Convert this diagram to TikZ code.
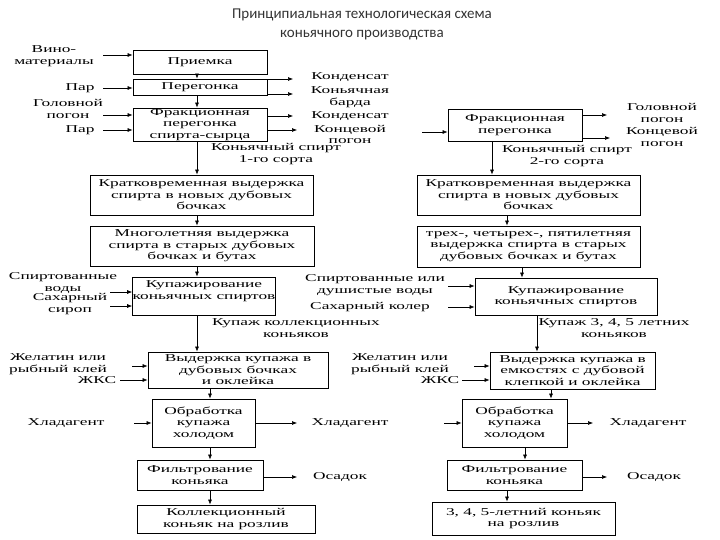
\documentclass[tikz,border=0pt]{standalone}
\usepackage{fontspec}
\usetikzlibrary{arrows.meta}
\newfontfamily\dfont[FakeStretch=1.65]{Liberation Serif}
\newfontfamily\tfont{Carlito}
\tikzset{
  box/.style={draw, line width=0.8pt, inner sep=0pt, align=center,
    font=\dfont\fontsize{10.5}{11.5}\selectfont},
  lbl/.style={inner sep=0pt, align=center,
    font=\dfont\fontsize{10.5}{11.5}\selectfont},
  ttl/.style={inner sep=0pt, align=center,
    font=\tfont\fontsize{15}{19}\selectfont, text=black!80},
  arr/.style={-{Latex[length=5pt,width=4pt]}, line width=0.6pt},
}
\begin{document}
\begin{tikzpicture}[x=1pt,y=-1pt]
\useasboundingbox (0,0) rectangle (720,540);
\node[ttl] (title) at (362,24) {Принципиальная технологическая схема\\коньячного производства};

% ---------- left column ----------
\node[box, minimum width=134pt, minimum height=24pt] (L1) at (200,62) {Приемка};
\node[box, minimum width=134pt, minimum height=16pt] (L2) at (200,87) {Перегонка};
\node[box, minimum width=134pt, minimum height=33pt] (L3) at (200,124.5) {Фракционная\\перегонка\\спирта-сырца};
\node[box, minimum width=223pt, minimum height=40pt] (L4) at (201.5,195) {Кратковременная выдержка\\спирта в новых дубовых\\бочках};
\node[box, minimum width=224pt, minimum height=40pt] (L5) at (202,246) {Многолетняя выдержка\\спирта в старых дубовых\\бочках и бутах};
\node[box, minimum width=142pt, minimum height=38pt] (L6) at (204,296) {Купажирование\\коньячных спиртов\\\mbox{}};
\node[box, minimum width=180pt, minimum height=36pt] (L7) at (238,370) {Выдержка купажа в\\дубовых бочках\\и оклейка};
\node[box, minimum width=103pt, minimum height=48pt] (L8) at (203.5,423) {Обработка\\купажа\\холодом};
\node[box, minimum width=126pt, minimum height=30pt] (L9) at (200,475) {Фильтрование\\коньяка};
\node[box, minimum width=178pt, minimum height=28pt] (L10) at (226,519) {Коллекционный\\коньяк на розлив};

\coordinate (xa) at (197,0);
\coordinate (xb) at (210,0);
\foreach \a/\b in {L1/L2,L2/L3,L3/L4,L4/L5,L5/L6,L6/L7}
  \draw[arr] (\a.south -| xa) -- (\b.north -| xa);
\foreach \a/\b in {L7/L8,L8/L9,L9/L10}
  \draw[arr] (\a.south -| xb) -- (\b.north -| xb);

% inputs left
\node[lbl] (iVino) at (54,56) {Вино-\\материалы};
\coordinate (aVino) at (103,55);
\draw[arr] (aVino) -- (L1.west |- aVino);
\node[lbl] (iPar1) at (80,88) {Пар};
\coordinate (aPar1) at (103,88);
\draw[arr] (aPar1) -- (L2.west |- aPar1);
\node[lbl] (iGol) at (68,109) {Головной\\погон};
\coordinate (aGol) at (103,115);
\draw[arr] (aGol) -- (L3.west |- aGol);
\node[lbl] (iPar2) at (80,130) {Пар};
\coordinate (aPar2) at (103,130);
\draw[arr] (aPar2) -- (L3.west |- aPar2);

% outputs left
\node[lbl] (oKond1) at (350,77) {Конденсат};
\coordinate (bKond1) at (293,79);
\draw[arr] (L2.east |- bKond1) -- (bKond1);
\node[lbl] (oBarda) at (350,97) {Коньячная\\барда};
\coordinate (bBarda) at (293,94);
\draw[arr] (L2.east |- bBarda) -- (bBarda);
\node[lbl] (oKond2) at (350,116) {Конденсат};
\coordinate (bKond2) at (293,116);
\draw[arr] (L3.east |- bKond2) -- (bKond2);
\node[lbl] (oKonc) at (350,134.5) {Концевой\\погон};
\coordinate (bKonc) at (297,130);
\draw[arr] (L3.east |- bKonc) -- (bKonc);
\node[lbl] (sp1) at (276,154) {Коньячный спирт\\1-го сорта};

\node[lbl] (iSpW) at (63,283) {Спиртованные\\воды};
\coordinate (aSpW) at (110,292);
\draw[arr] (aSpW) -- (L6.west |- aSpW);
\node[lbl] (iSir) at (70,304) {Сахарный\\сироп};
\coordinate (aSir) at (110,306);
\draw[arr] (aSir) -- (L6.west |- aSir);
\node[lbl] (kupL) at (296,328) {Купаж коллекционных\\коньяков};

\node[lbl] (iZhel) at (58,364) {Желатин или\\рыбный клей};
\coordinate (aZhel) at (132,366);
\draw[arr] (aZhel) -- (L7.west |- aZhel);
\node[lbl] (iZhks) at (97,380) {ЖКС};
\coordinate (aZhks) at (120,380);
\draw[arr] (aZhks) -- (L7.west |- aZhks);

\node[lbl] (iHl) at (66,423) {Хладагент};
\coordinate (aHl) at (134,423);
\draw[arr] (aHl) -- (L8.west |- aHl);
\node[lbl] (oHl) at (350,423) {Хладагент};
\coordinate (bHl) at (297,423);
\draw[arr] (L8.east |- bHl) -- (bHl);
\node[lbl] (oOs) at (340,477) {Осадок};
\coordinate (bOs) at (297,477);
\draw[arr] (L9.east |- bOs) -- (bOs);

% ---------- right column ----------
\node[box, minimum width=134pt, minimum height=32pt] (R3) at (515,125) {Фракционная\\перегонка};
\node[box, minimum width=223pt, minimum height=40pt] (R4) at (528.5,195) {Кратковременная выдержка\\спирта в новых дубовых\\бочках};
\node[box, minimum width=223pt, minimum height=41pt] (R5) at (528.5,246.5) {трех-, четырех-, пятилетняя\\выдержка спирта в старых\\дубовых бочках и бутах};
\node[box, minimum width=182pt, minimum height=37pt] (R6) at (566,296.5) {Купажирование\\коньячных спиртов};
\node[box, minimum width=165pt, minimum height=37pt] (R7) at (572.5,370.5) {Выдержка купажа в\\емкостях с дубовой\\клепкой и оклейка};
\node[box, minimum width=105pt, minimum height=48pt] (R8) at (514.5,423) {Обработка\\купажа\\холодом};
\node[box, minimum width=135pt, minimum height=30pt] (R9) at (514.5,475) {Фильтрование\\коньяка};
\node[box, minimum width=183pt, minimum height=33pt] (R10) at (523.5,518.5) {3, 4, 5-летний коньяк\\на розлив};

\foreach \a/\b/\x in {R3/R4/492,R4/R5/507,R5/R6/522,R6/R7/537,R7/R8/551,R8/R9/525,R9/R10/507}
  \draw[arr] (\a.south -| \x,0) -- (\b.north -| \x,0);

\coordinate (aR3) at (422,132);
\draw[arr] (aR3) -- (R3.west |- aR3);
\node[lbl] (oGolR) at (662,113) {Головной\\погон};
\coordinate (bGolR) at (607,115);
\draw[arr] (R3.east |- bGolR) -- (bGolR);
\node[lbl] (oKoncR) at (662,137) {Концевой\\погон};
\coordinate (bKoncR) at (610,138);
\draw[arr] (R3.east |- bKoncR) -- (bKoncR);
\node[lbl] (sp2) at (567,156) {Коньячный спирт\\2-го сорта};

\node[lbl] (iSpWR) at (375,285) {Спиртованные или\\душистые воды};
\coordinate (aSpWR) at (448,286);
\draw[arr] (aSpWR) -- (R6.west |- aSpWR);
\node[lbl] (iKol) at (370,307) {Сахарный колер};
\coordinate (aKol) at (448,307);
\draw[arr] (aKol) -- (R6.west |- aKol);
\node[lbl] (kupR) at (614,328) {Купаж 3, 4, 5 летних\\коньяков};

\node[lbl] (iZhelR) at (400,364) {Желатин или\\рыбный клей};
\coordinate (aZhelR) at (474,366);
\draw[arr] (aZhelR) -- (R7.west |- aZhelR);
\node[lbl] (iZhksR) at (440,380) {ЖКС};
\coordinate (aZhksR) at (462,380);
\draw[arr] (aZhksR) -- (R7.west |- aZhksR);

\coordinate (aHlR) at (444,423);
\draw[arr] (aHlR) -- (R8.west |- aHlR);
\node[lbl] (oHlR) at (648,423) {Хладагент};
\coordinate (bHlR) at (593,423);
\draw[arr] (R8.east |- bHlR) -- (bHlR);
\node[lbl] (oOsR) at (654,477) {Осадок};
\coordinate (bOsR) at (607,477);
\draw[arr] (R9.east |- bOsR) -- (bOsR);
\end{tikzpicture}
\end{document}
